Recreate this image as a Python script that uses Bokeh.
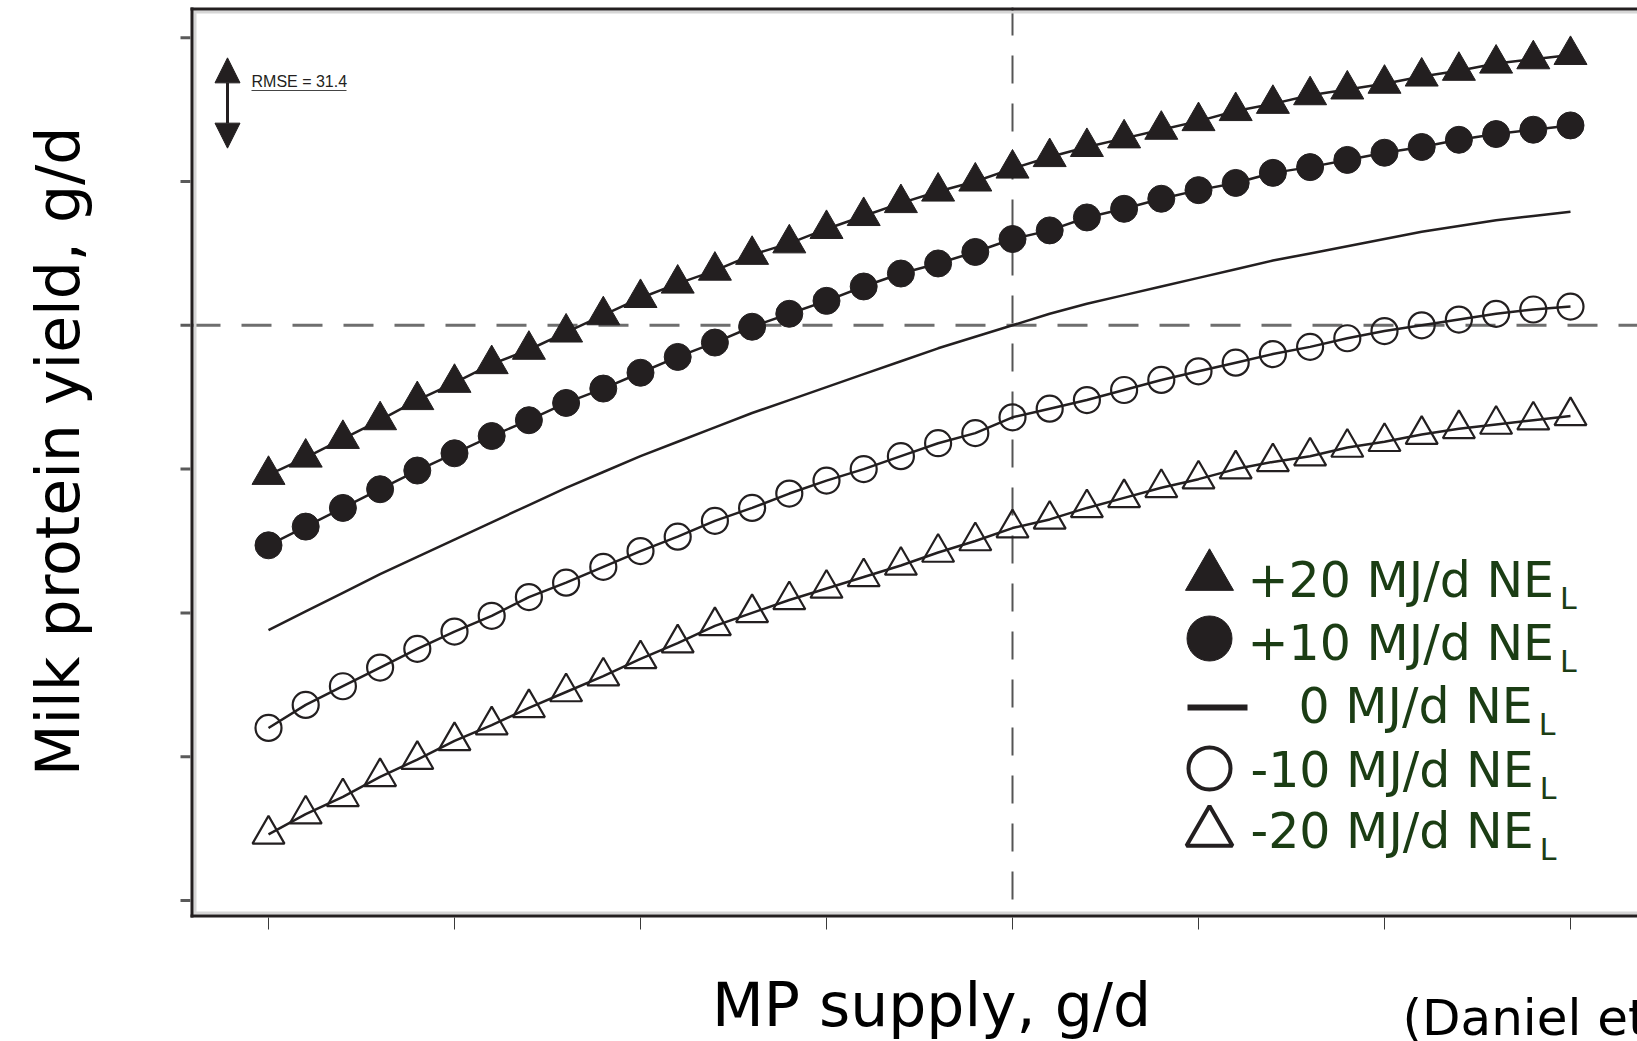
import numpy as np
from bokeh.plotting import figure
from bokeh.models import Range1d, Label, Arrow, NormalHead
from bokeh.embed import file_html
from bokeh.resources import INLINE

# ---------------------------------------------------------------- data
# MP supply (g/d) at which the response curves were evaluated
mp_supply = [1400, 1440, 1480, 1520, 1560, 1600, 1640, 1680, 1720, 1760,
             1800, 1840, 1880, 1920, 1960, 2000, 2040, 2080, 2120, 2160,
             2200, 2240, 2280, 2320, 2360, 2400, 2440, 2480, 2520, 2560,
             2600, 2640, 2680, 2720, 2760, 2800]

# Predicted milk protein yield (g/d) for each NE_L supply change
yield_plus20 = [996, 1008, 1021, 1034, 1048, 1060, 1073, 1083, 1095, 1107,
                1119, 1129, 1138, 1149, 1157, 1167, 1176, 1185, 1193, 1200,
                1209, 1217, 1224, 1230, 1236, 1242, 1249, 1254, 1260, 1264,
                1268, 1273, 1277, 1282, 1285, 1288]
yield_plus10 = [947, 960, 973, 986, 999, 1011, 1023, 1034, 1046, 1056,
                1067, 1078, 1088, 1099, 1108, 1117, 1127, 1136, 1143, 1151,
                1160, 1166, 1175, 1181, 1188, 1194, 1199, 1206, 1210, 1215,
                1220, 1224, 1229, 1233, 1236, 1239]
yield_zero = [888, 901, 914, 927, 939, 951, 963, 975, 987, 998,
              1009, 1019, 1029, 1039, 1048, 1057, 1066, 1075, 1084, 1092,
              1100, 1108, 1115, 1121, 1127, 1133, 1139, 1145, 1150, 1155,
              1160, 1165, 1169, 1173, 1176, 1179]
yield_minus10 = [820, 836, 849, 862, 875, 887, 898, 911, 921, 932,
                 943, 953, 964, 973, 983, 992, 1000, 1009, 1018, 1025,
                 1036, 1042, 1048, 1055, 1062, 1068, 1074, 1080, 1085, 1091,
                 1096, 1100, 1104, 1108, 1111, 1113]
yield_minus20 = [746, 760, 772, 786, 798, 811, 822, 834, 845, 856,
                 868, 879, 891, 900, 909, 917, 925, 933, 942, 950,
                 959, 965, 973, 980, 987, 993, 1000, 1005, 1009, 1015,
                 1019, 1024, 1028, 1031, 1034, 1037]

x_ticks = [1400, 1600, 1800, 2000, 2200, 2400, 2600, 2800]
y_ticks = [700, 800, 900, 1000, 1100, 1200, 1300]

ref_mp = 2200        # reference MP supply
ref_yield = 1100     # reference protein yield
rmse = 31.4

legend_labels = ["+20 MJ/d NE", "+10 MJ/d NE", "0 MJ/d NE",
                 "-10 MJ/d NE", "-20 MJ/d NE"]

# ---------------------------------------------------------------- layout
# The drawing area covers the whole canvas; the plot box, its ticks and
# all titles are placed with the helpers dx/dy (canvas pixel -> data).
W, H = 1637, 1041
BOX_L, BOX_T, BOX_B = 190, 7, 917
PX_PER_X = 186 / 200.0        # pixels per g/d of MP supply
PX_PER_Y = 143.8 / 100.0      # pixels per g/d of protein yield
X0_PX, Y0_PX = 268, 900       # canvas pixel of the first x / y tick

x_start = x_ticks[0] - X0_PX / PX_PER_X
x_end = x_start + W / PX_PER_X
y_start = y_ticks[0] - (H - Y0_PX) / PX_PER_Y
y_end = y_start + H / PX_PER_Y


def dx(px):
    return x_start + px / PX_PER_X


def dy(py):
    return y_start + (H - py) / PX_PER_Y


INK = "#231f20"
GREEN = "#1b3d14"
FONT = "DejaVu Sans"
MID = 0.35   # baseline sits this many ems below a "middle"-anchored point

p = figure(width=W, height=H, title=None,
           x_range=Range1d(x_start, x_end), y_range=Range1d(y_start, y_end),
           x_axis_location=None, y_axis_location=None,
           output_backend="svg", toolbar_location=None,
           min_border_left=0, min_border_right=0,
           min_border_top=0, min_border_bottom=0)
p.xgrid.visible = False
p.ygrid.visible = False
p.outline_line_color = None
p.background_fill_color = "white"
p.border_fill_color = "white"


def text_at(px, py_base, text, size, font=FONT, color="black", align="left",
            angle=0.0):
    """Place text whose baseline passes through canvas pixel (px, py_base)."""
    off = MID * size
    if angle:
        x, y = dx(px - off), dy(py_base)
    else:
        x, y = dx(px), dy(py_base - off)
    p.add_layout(Label(x=x, y=y, text=text, text_font=font,
                       text_font_size=f"{size}px", text_color=color,
                       text_align=align, text_baseline="middle", angle=angle))


# ---------------------------------------------------------------- reference lines
p.line([dx(BOX_L), dx(W)], [ref_yield, ref_yield], line_color="#6e6e6e",
       line_width=3, line_dash="30 21")
p.line([ref_mp, ref_mp], [dy(BOX_T), dy(BOX_B)], line_color="#555555",
       line_width=2, line_dash="28 20")

# ---------------------------------------------------------------- series
for ys in (yield_plus20, yield_plus10, yield_zero, yield_minus10, yield_minus20):
    p.line(mp_supply, ys, line_color=INK, line_width=2.5)

p.scatter(mp_supply, yield_plus20, marker="triangle", size=33,
          fill_color=INK, line_color=INK, line_width=1)
p.scatter(mp_supply, yield_plus10, marker="circle", size=27,
          fill_color=INK, line_color=INK, line_width=1)
p.scatter(mp_supply, yield_minus10, marker="circle", size=26,
          fill_color=None, line_color=INK, line_width=2.2)
p.scatter(mp_supply, yield_minus20, marker="triangle", size=32,
          fill_color=None, line_color=INK, line_width=2.2)

# ---------------------------------------------------------------- plot box
# light inner rule, then dark outer rule (left, top, bottom)
p.segment(x0=[dx(BOX_L + 4.5), dx(BOX_L + 3), dx(BOX_L + 3)],
          y0=[dy(BOX_T + 3), dy(BOX_T + 4.5), dy(BOX_B - 4.5)],
          x1=[dx(BOX_L + 4.5), dx(W), dx(W)],
          y1=[dy(BOX_B - 3), dy(BOX_T + 4.5), dy(BOX_B - 4.5)],
          line_color="#d6d6d6", line_width=3)
p.segment(x0=[dx(BOX_L + 1.5), dx(BOX_L), dx(BOX_L)],
          y0=[dy(BOX_T), dy(BOX_T + 1.5), dy(BOX_B - 1.5)],
          x1=[dx(BOX_L + 1.5), dx(W), dx(W)],
          y1=[dy(BOX_B), dy(BOX_T + 1.5), dy(BOX_B - 1.5)],
          line_color=INK, line_width=3)

# ticks drawn outward from the box
p.segment(x0=x_ticks, y0=[dy(BOX_B)] * len(x_ticks),
          x1=x_ticks, y1=[dy(BOX_B + 12)] * len(x_ticks),
          line_color="#3a3a3a", line_width=1)
p.segment(x0=[dx(BOX_L)] * len(y_ticks), y0=y_ticks,
          x1=[dx(BOX_L - 10)] * len(y_ticks), y1=y_ticks,
          line_color="#5a5a5a", line_width=3)

# ---------------------------------------------------------------- RMSE bar
arrow_x = dx(227)
arrow_mid = dy(102.5)
p.add_layout(Arrow(start=NormalHead(size=25, fill_color=INK, line_color=INK),
                   end=NormalHead(size=25, fill_color=INK, line_color=INK),
                   x_start=arrow_x, y_start=arrow_mid - rmse,
                   x_end=arrow_x, y_end=arrow_mid + rmse,
                   line_color=INK, line_width=3))
text_at(251, 87, f"RMSE = {rmse}", 16, font="Liberation Sans", color=INK)
p.segment(x0=[dx(251)], y0=[dy(90)], x1=[dx(346)], y1=[dy(90)],
          line_color="#444444", line_width=1)

# ---------------------------------------------------------------- legend
LEG_MARK_X = 1209
row_centres = [576, 638, 707, 768, 832]
row_baselines = [597, 660, 723, 787, 848]
row_starts = [1247, 1247, 1298, 1250, 1250]
LEG_SIZE = 49
# DejaVu Sans advance widths (em) for the legend characters
adv = {"+": 0.838, "-": 0.361, "0": 0.636, "1": 0.636, "2": 0.636, " ": 0.318,
       "M": 0.863, "J": 0.295, "/": 0.337, "d": 0.635, "N": 0.748, "E": 0.632}

p.scatter([dx(LEG_MARK_X)], [dy(row_centres[0])], marker="triangle", size=48,
          fill_color=INK, line_color=INK)
p.scatter([dx(LEG_MARK_X)], [dy(row_centres[1])], marker="circle", size=45,
          fill_color=INK, line_color=INK)
p.segment(x0=[dx(1187)], y0=[dy(row_centres[2])], x1=[dx(1247)],
          y1=[dy(row_centres[2])], line_color=INK, line_width=6)
p.scatter([dx(LEG_MARK_X)], [dy(row_centres[3])], marker="circle", size=42,
          fill_color=None, line_color=INK, line_width=4)
p.scatter([dx(LEG_MARK_X)], [dy(row_centres[4])], marker="triangle", size=46,
          fill_color=None, line_color=INK, line_width=4)

for lab, base, start in zip(legend_labels, row_baselines, row_starts):
    text_at(start, base, lab, LEG_SIZE, color=GREEN)
    width = sum(adv[c] for c in lab) * LEG_SIZE
    text_at(start + width + 6, base + 11, "L", 30, color=GREEN)

# ---------------------------------------------------------------- titles
text_at(931, 1025, "MP supply, g/d", 60, align="center")
text_at(78, 451, "Milk protein yield, g/d", 60, align="center", angle=np.pi / 2)
text_at(1402, 1035, "(Daniel et al., 2016)", 50)

open("out.html", "w").write(file_html(p, INLINE))
